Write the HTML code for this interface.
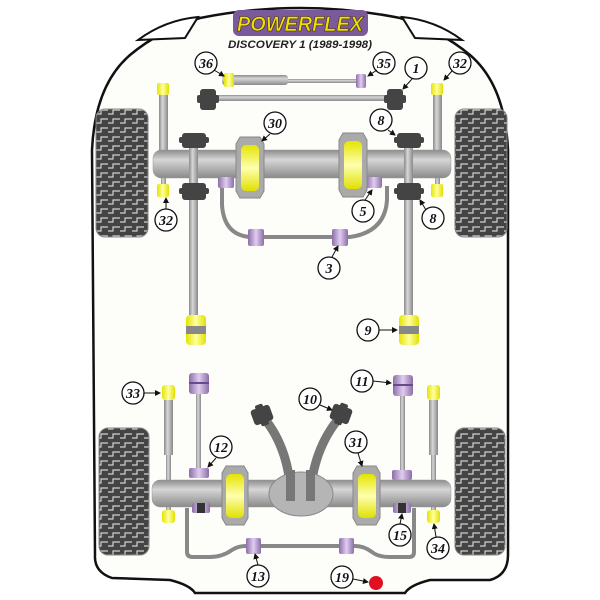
<!DOCTYPE html>
<html><head><meta charset="utf-8"><style>
html,body{margin:0;padding:0;background:#fff;width:600px;height:600px;overflow:hidden}
svg{display:block}
.lbl{font-family:"Liberation Serif",serif;font-weight:bold;font-style:italic;font-size:14px;text-anchor:middle}
</style></head><body>
<svg width="600" height="600" viewBox="0 0 600 600" xmlns="http://www.w3.org/2000/svg">
<defs>
<linearGradient id="tube" x1="0" y1="0" x2="0" y2="1">
<stop offset="0" stop-color="#8c8c8c"/><stop offset="0.35" stop-color="#d6d6d6"/><stop offset="1" stop-color="#8a8a8a"/></linearGradient>
<linearGradient id="rodv" x1="0" y1="0" x2="1" y2="0">
<stop offset="0" stop-color="#8a8a8a"/><stop offset="0.4" stop-color="#d8d8d8"/><stop offset="1" stop-color="#888"/></linearGradient>
<linearGradient id="yel" x1="0" y1="0" x2="0" y2="1">
<stop offset="0" stop-color="#e4e400"/><stop offset="0.5" stop-color="#ffffb0"/><stop offset="1" stop-color="#e0e000"/></linearGradient>
<linearGradient id="yelh" x1="0" y1="0" x2="1" y2="0">
<stop offset="0" stop-color="#e4e400"/><stop offset="0.5" stop-color="#ffffa0"/><stop offset="1" stop-color="#e0e000"/></linearGradient>
<linearGradient id="pur" x1="0" y1="0" x2="1" y2="0">
<stop offset="0" stop-color="#8c6ea8"/><stop offset="0.5" stop-color="#e0cdf0"/><stop offset="1" stop-color="#8c6ea8"/></linearGradient>
<pattern id="tread" width="12" height="9" patternUnits="userSpaceOnUse">
<rect width="12" height="9" fill="#444"/>
<path d="M0 6 H5 V2 H12" stroke="#d0d0d0" stroke-width="1.2" fill="none"/>
</pattern>
<marker id="ah" markerWidth="6" markerHeight="6" refX="5" refY="3" orient="auto" markerUnits="userSpaceOnUse"><path d="M0 0 L6 3 L0 6 Z" fill="#111"/></marker>
</defs>

<!-- body outline -->
<path d="M200 18 Q300 -2 400 18 Q440 30 470 55 Q505 85 508 150 L508 555 Q508 575 490 580 L430 580 Q410 585 405 593 L195 593 Q190 585 170 580 L112 578 Q94 572 95 555 L92 150 Q95 85 130 55 Q160 30 200 18 Z" fill="#fdfdfa" stroke="#111" stroke-width="2.5"/>
<path d="M138 40 Q165 20 198 17 Q190 30 185 38 Z" fill="#fff" stroke="#111" stroke-width="2"/>
<path d="M462 40 Q435 20 402 17 Q410 30 415 38 Z" fill="#fff" stroke="#111" stroke-width="2"/>

<!-- logo -->
<rect x="233" y="10" width="135" height="26" rx="6" fill="#7a5a9a"/>
<text x="300" y="31" font-family="Liberation Sans,sans-serif" font-weight="bold" font-style="italic" font-size="21" fill="#f2e000" stroke="#3a2a10" stroke-width="0.6" text-anchor="middle" textLength="126" lengthAdjust="spacingAndGlyphs">POWERFLEX</text>
<text x="300" y="48" font-family="Liberation Sans,sans-serif" font-weight="bold" font-style="italic" font-size="11" fill="#222" text-anchor="middle" textLength="144" lengthAdjust="spacingAndGlyphs">DISCOVERY 1 (1989-1998)</text>

<!-- wheels -->
<rect x="96" y="109" width="52" height="128" rx="9" fill="url(#tread)" stroke="#888"/>
<rect x="455" y="109" width="52" height="128" rx="9" fill="url(#tread)" stroke="#888"/>
<rect x="99" y="428" width="50" height="127" rx="9" fill="url(#tread)" stroke="#888"/>
<rect x="455" y="428" width="50" height="127" rx="9" fill="url(#tread)" stroke="#888"/>

<!-- FRONT -->
<rect x="240" y="79" width="125" height="4" fill="url(#tube)"/>
<rect x="222" y="75" width="66" height="10" rx="3" fill="url(#tube)"/>
<rect x="224" y="73" width="10" height="14" rx="2" fill="url(#yelh)"/>
<rect x="356" y="74" width="10" height="14" rx="2" fill="url(#pur)"/>
<rect x="207" y="95" width="190" height="6" fill="url(#tube)"/>
<rect x="200" y="89" width="16" height="21" rx="3" fill="#444"/><rect x="197" y="95" width="22" height="8" rx="2" fill="#444"/>
<rect x="387" y="89" width="16" height="21" rx="3" fill="#444"/><rect x="384" y="95" width="22" height="8" rx="2" fill="#444"/>
<rect x="161" y="88" width="5" height="100" fill="url(#rodv)"/>
<rect x="159" y="95" width="9" height="55" fill="url(#rodv)"/>
<rect x="157" y="83" width="12" height="12" rx="2" fill="url(#yelh)"/>
<rect x="157" y="184" width="12" height="13" rx="2" fill="url(#yelh)"/>
<rect x="435" y="88" width="5" height="100" fill="url(#rodv)"/>
<rect x="433" y="95" width="9" height="55" fill="url(#rodv)"/>
<rect x="431" y="83" width="12" height="12" rx="2" fill="url(#yelh)"/>
<rect x="431" y="184" width="12" height="13" rx="2" fill="url(#yelh)"/>
<rect x="153" y="150" width="298" height="28" rx="8" fill="url(#tube)" stroke="#999" stroke-width="0.5"/>
<path d="M222 184 L222 205 Q224 235 250 237 L350 237 Q385 232 387 200 L387 186" fill="none" stroke="#888" stroke-width="4"/>
<rect x="248" y="229" width="16" height="17" rx="2" fill="url(#pur)"/>
<rect x="332" y="229" width="16" height="17" rx="2" fill="url(#pur)"/>
<rect x="218" y="177" width="16" height="11" rx="2" fill="url(#pur)"/>
<rect x="366" y="177" width="16" height="11" rx="2" fill="url(#pur)"/>
<rect x="189" y="135" width="9" height="190" fill="url(#rodv)"/>
<rect x="404" y="135" width="9" height="190" fill="url(#rodv)"/>
<rect x="182" y="133" width="24" height="15" rx="3" fill="#444"/><rect x="179" y="137" width="30" height="6" rx="2" fill="#444"/>
<rect x="182" y="183" width="24" height="17" rx="3" fill="#444"/><rect x="179" y="188" width="30" height="6" rx="2" fill="#444"/>
<rect x="397" y="133" width="24" height="15" rx="3" fill="#444"/><rect x="394" y="137" width="30" height="6" rx="2" fill="#444"/>
<rect x="397" y="183" width="24" height="17" rx="3" fill="#444"/><rect x="394" y="188" width="30" height="6" rx="2" fill="#444"/>
<rect x="186" y="315" width="20" height="30" rx="4" fill="url(#yelh)"/><rect x="186" y="326" width="20" height="8" fill="#888"/>
<rect x="399" y="315" width="20" height="30" rx="4" fill="url(#yelh)"/><rect x="399" y="326" width="20" height="8" fill="#888"/>
<path d="M240 137 L260 137 L264 144 L264 191 L260 198 L240 198 L236 191 L236 144 Z" fill="#aaa" stroke="#888"/>
<rect x="241" y="145" width="18" height="46" rx="5" fill="url(#yel)"/>
<path d="M343 133 L363 133 L367 140 L367 190 L363 197 L343 197 L339 190 L339 140 Z" fill="#aaa" stroke="#888"/>
<rect x="344" y="141" width="18" height="48" rx="5" fill="url(#yel)"/>

<!-- REAR -->
<path d="M264 418 Q290 450 291 500" fill="none" stroke="#777" stroke-width="9"/>
<path d="M340 417 Q312 450 310 500" fill="none" stroke="#777" stroke-width="9"/>
<rect x="166" y="395" width="5" height="120" fill="url(#rodv)"/>
<rect x="164" y="400" width="9" height="55" fill="url(#rodv)"/>
<rect x="162" y="385" width="13" height="15" rx="3" fill="url(#yelh)"/>
<rect x="431" y="395" width="5" height="120" fill="url(#rodv)"/>
<rect x="429" y="400" width="9" height="55" fill="url(#rodv)"/>
<rect x="427" y="385" width="13" height="15" rx="3" fill="url(#yelh)"/>
<rect x="196" y="390" width="5" height="85" fill="url(#rodv)"/>
<rect x="400" y="392" width="5" height="85" fill="url(#rodv)"/>
<rect x="189" y="373" width="20" height="21" rx="3" fill="url(#pur)"/><rect x="189" y="382" width="20" height="2" fill="#6a4a8a"/>
<rect x="393" y="375" width="20" height="21" rx="3" fill="url(#pur)"/><rect x="393" y="384" width="20" height="2" fill="#6a4a8a"/>
<rect x="189" y="468" width="20" height="10" rx="2" fill="url(#pur)"/>
<rect x="392" y="470" width="20" height="10" rx="2" fill="url(#pur)"/>
<rect x="152" y="480" width="299" height="27" rx="8" fill="url(#tube)" stroke="#999" stroke-width="0.5"/>
<ellipse cx="301" cy="494" rx="32" ry="22" fill="#b5b5b5" stroke="#888"/>
<rect x="286" y="470" width="9" height="31" fill="#777"/>
<rect x="306" y="470" width="9" height="31" fill="#777"/>
<g transform="translate(262 415) rotate(-20)"><rect x="-10" y="-8" width="20" height="16" rx="3" fill="#444"/><rect x="-4" y="-11" width="8" height="22" rx="2" fill="#444"/></g>
<g transform="translate(341 414) rotate(20)"><rect x="-10" y="-8" width="20" height="16" rx="3" fill="#444"/><rect x="-4" y="-11" width="8" height="22" rx="2" fill="#444"/></g>
<rect x="162" y="510" width="13" height="13" rx="3" fill="url(#yelh)"/>
<rect x="427" y="510" width="13" height="13" rx="3" fill="url(#yelh)"/>
<path d="M187 508 L187 552 Q187 557 193 557 L210 557 Q222 557 232 550 Q238 546 246 546 L355 546 Q364 546 372 552 Q378 557 390 557 L409 557 Q414 557 414 552 L414 508" fill="none" stroke="#888" stroke-width="4"/>
<rect x="246" y="538" width="15" height="16" rx="2" fill="url(#pur)"/>
<rect x="339" y="538" width="15" height="16" rx="2" fill="url(#pur)"/>
<rect x="192" y="503" width="18" height="10" rx="2" fill="url(#pur)"/><rect x="197" y="503" width="8" height="10" fill="#333"/>
<rect x="393" y="503" width="18" height="10" rx="2" fill="url(#pur)"/><rect x="398" y="503" width="8" height="10" fill="#333"/>
<path d="M226 466 L244 466 L248 473 L248 518 L244 525 L226 525 L222 518 L222 473 Z" fill="#aaa" stroke="#888"/>
<rect x="226" y="474" width="18" height="44" rx="5" fill="url(#yel)"/>
<path d="M357 466 L376 466 L380 473 L380 518 L376 525 L357 525 L353 518 L353 473 Z" fill="#aaa" stroke="#888"/>
<rect x="358" y="474" width="18" height="44" rx="5" fill="url(#yel)"/>
<circle cx="376" cy="583" r="7" fill="#e01020"/>

<!-- labels -->
<g fill="#fff" stroke="#111" stroke-width="1.3">
<circle cx="206" cy="63" r="11"/><circle cx="384" cy="63" r="11"/><circle cx="416" cy="68" r="11"/><circle cx="460" cy="63" r="11"/>
<circle cx="275" cy="123" r="11"/><circle cx="381" cy="120" r="11"/><circle cx="166" cy="220" r="11"/><circle cx="363" cy="211" r="11"/>
<circle cx="433" cy="218" r="11"/><circle cx="329" cy="268" r="11"/><circle cx="368" cy="330" r="11"/><circle cx="133" cy="393" r="11"/>
<circle cx="362" cy="381" r="11"/><circle cx="310" cy="399" r="11"/><circle cx="221" cy="447" r="11"/><circle cx="356" cy="442" r="11"/>
<circle cx="400" cy="535" r="11"/><circle cx="438" cy="548" r="11"/><circle cx="258" cy="576" r="11"/><circle cx="342" cy="577" r="11"/>
</g>
<g stroke="#111" stroke-width="1" fill="none" marker-end="url(#ah)">
<path d="M214 70 L224 76"/><path d="M377 70 L368 76"/><path d="M412 79 L403 89"/><path d="M452 71 L444 80"/>
<path d="M270 134 L262 141"/><path d="M388 130 L395 135"/><path d="M166 209 L166 198"/><path d="M365 200 L372 190"/>
<path d="M426 210 L420 200"/><path d="M332 257 L338 246"/><path d="M379 330 L397 330"/><path d="M144 393 L160 393"/>
<path d="M373 381 L391 383"/><path d="M320 405 L332 410"/><path d="M216 458 L208 467"/><path d="M358 453 L362 466"/>
<path d="M400 524 L402 514"/><path d="M436 537 L434 524"/><path d="M258 565 L255 554"/><path d="M353 579 L368 582"/>
</g>
<g fill="#111">
<text class="lbl" x="206" y="68">36</text><text class="lbl" x="384" y="68">35</text><text class="lbl" x="416" y="73">1</text><text class="lbl" x="460" y="68">32</text>
<text class="lbl" x="275" y="128">30</text><text class="lbl" x="381" y="125">8</text><text class="lbl" x="166" y="225">32</text><text class="lbl" x="363" y="216">5</text>
<text class="lbl" x="433" y="223">8</text><text class="lbl" x="329" y="273">3</text><text class="lbl" x="368" y="335">9</text><text class="lbl" x="133" y="398">33</text>
<text class="lbl" x="362" y="386">11</text><text class="lbl" x="310" y="404">10</text><text class="lbl" x="221" y="452">12</text><text class="lbl" x="356" y="447">31</text>
<text class="lbl" x="400" y="540">15</text><text class="lbl" x="438" y="553">34</text><text class="lbl" x="258" y="581">13</text><text class="lbl" x="342" y="582">19</text>
</g>
</svg>
</body></html>
